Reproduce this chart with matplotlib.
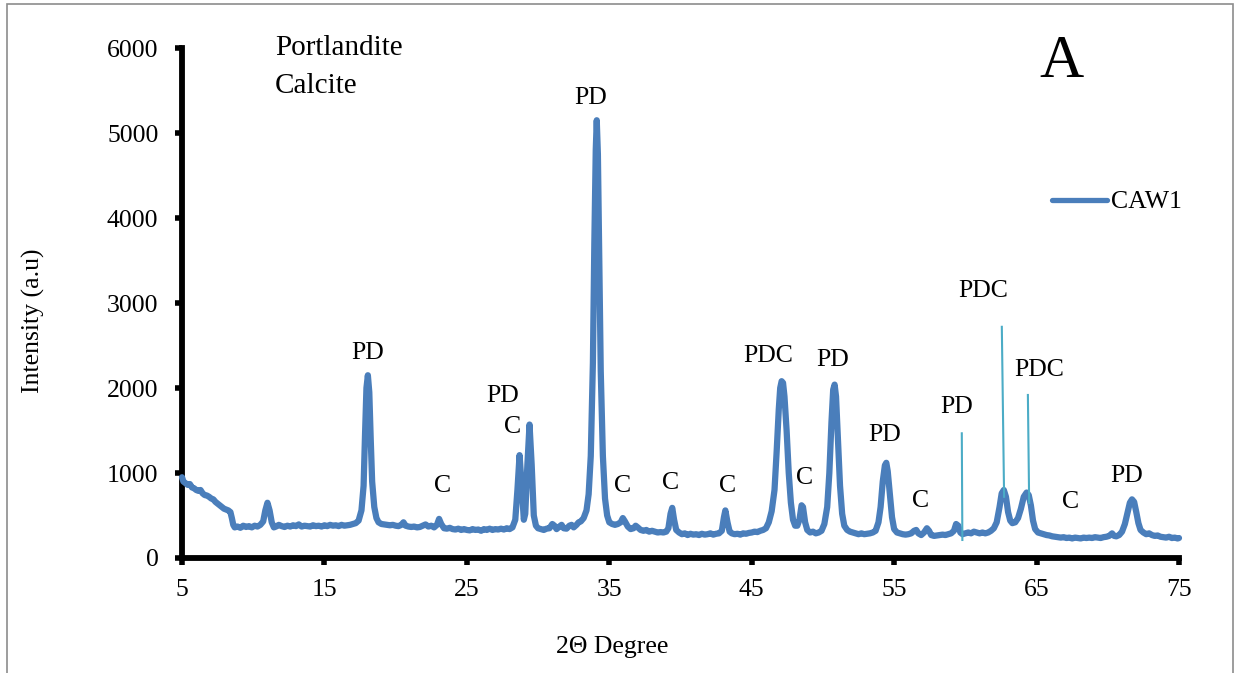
import matplotlib
matplotlib.use("Agg")
import matplotlib.pyplot as plt
from matplotlib.patches import Rectangle

# ---------------- data ----------------
two_theta = [
    5.0, 5.1, 5.25, 5.4, 5.55, 5.7, 5.85, 6.0, 6.15, 6.3, 6.45, 6.6, 6.75, 6.9, 7.05, 7.2, 7.35, 7.5, 7.65, 7.8,
    7.95, 8.1, 8.25, 8.4, 8.5, 8.6, 8.7,
    8.9, 9.1, 9.3, 9.5, 9.7, 9.9, 10.1, 10.3, 10.5,
    10.7, 10.85, 11.0, 11.15, 11.3, 11.45,
    11.6, 11.8, 12.0, 12.2, 12.4, 12.6, 12.8, 13.0, 13.2, 13.4, 13.6, 13.8, 14.0, 14.2, 14.4, 14.6, 14.8, 15.0,
    15.2, 15.4, 15.6, 15.8, 16.0, 16.2, 16.4, 16.6, 16.8, 17.0, 17.2, 17.4,
    17.6, 17.75, 17.85, 17.95, 18.05, 18.15, 18.25, 18.35, 18.5, 18.65, 18.8,
    19.0, 19.2, 19.4, 19.6, 19.8, 20.0, 20.2, 20.4, 20.55, 20.7, 20.9, 21.1, 21.3, 21.5, 21.7, 21.9, 22.1, 22.3,
    22.5, 22.7, 22.9, 23.05, 23.2, 23.4, 23.6, 23.8, 24.0, 24.2, 24.4, 24.6, 24.8, 25.0, 25.2, 25.4, 25.6, 25.8,
    26.0, 26.2, 26.4, 26.6, 26.8, 27.0, 27.2, 27.4, 27.6, 27.8, 28.0, 28.2, 28.4,
    28.55, 28.7, 28.85, 29.0, 29.1, 29.25, 29.4, 29.55, 29.7, 29.85, 30.0, 30.2, 30.4, 30.6, 30.8, 31.0, 31.15,
    31.3, 31.5, 31.65, 31.8, 32.0, 32.2, 32.35, 32.5, 32.7, 32.85, 33.0, 33.2, 33.4, 33.55, 33.7, 33.85, 33.95,
    34.05, 34.12, 34.2, 34.3, 34.4, 34.55, 34.7, 34.85, 35.0, 35.2, 35.4, 35.6, 35.8, 35.95, 36.1, 36.3, 36.5,
    36.7, 36.85, 37.0, 37.2, 37.4, 37.6, 37.8, 38.0, 38.2, 38.4, 38.6, 38.8, 39.0, 39.15, 39.3, 39.42, 39.55,
    39.7, 39.9, 40.1, 40.3, 40.5, 40.7, 40.9, 41.1, 41.3, 41.5, 41.7, 41.9, 42.1, 42.3, 42.5, 42.7, 42.9, 43.05,
    43.15, 43.3, 43.45, 43.6, 43.8, 44.0, 44.2, 44.4, 44.6, 44.8, 45.0, 45.2, 45.4, 45.6, 45.8, 46.0, 46.2, 46.4,
    46.6, 46.75, 46.9, 47.0, 47.1, 47.2, 47.3, 47.45, 47.6, 47.75, 47.9, 48.05, 48.2, 48.35, 48.5, 48.6, 48.75,
    48.9, 49.1, 49.3, 49.5, 49.7, 49.9, 50.1, 50.3, 50.45, 50.6, 50.72, 50.82, 50.92, 51.05, 51.2, 51.35, 51.5,
    51.7, 51.9, 52.1, 52.3, 52.5, 52.7, 52.9, 53.1, 53.3, 53.5, 53.7, 53.9, 54.05, 54.2, 54.35, 54.45, 54.55,
    54.7, 54.85, 55.0, 55.2, 55.4, 55.6, 55.8, 56.0, 56.2, 56.4, 56.55, 56.7, 56.9, 57.1, 57.3, 57.45, 57.6,
    57.8, 58.0, 58.2, 58.4, 58.6, 58.8, 59.0, 59.2, 59.35, 59.5, 59.65, 59.8, 60.0, 60.2, 60.4, 60.6, 60.8, 61.0,
    61.2, 61.4, 61.6, 61.8, 62.0, 62.2, 62.4, 62.55, 62.7, 62.85, 63.0, 63.15, 63.3, 63.5, 63.7, 63.9, 64.1,
    64.3, 64.45, 64.6, 64.75, 64.9, 65.1, 65.3, 65.5, 65.7, 65.9, 66.1, 66.3, 66.5, 66.7, 66.9, 67.1, 67.3,
    67.5, 67.7, 67.9, 68.1, 68.3, 68.5, 68.7, 68.9, 69.1, 69.3, 69.5, 69.7, 69.9, 70.1, 70.3, 70.45, 70.6, 70.8,
    71.0, 71.2, 71.4, 71.55, 71.7, 71.85, 72.0, 72.15, 72.3, 72.5, 72.7, 72.9, 73.1, 73.3, 73.5, 73.7, 73.9,
    74.1, 74.3, 74.5, 74.7, 74.9, 75.0,
]
intensity = [
    950, 900, 880, 860, 870, 830, 820, 800, 790, 800, 760, 740, 735, 720, 700, 690, 660, 640, 620, 600,
    580, 570, 560, 540, 470, 390, 360,
    370, 355, 380, 365, 375, 360, 380, 370, 390,
    430, 560, 650, 560, 420, 360,
    370, 390, 375, 365, 380, 370, 385, 375, 395, 370, 380, 375, 370, 385, 375, 380, 370, 385,
    375, 390, 380, 385, 375, 390, 380, 385, 390, 400, 410, 440,
    560, 850, 1450, 2000, 2150, 1950, 1400, 900, 600, 470, 420,
    400, 395, 390, 385, 390, 380, 375, 390, 420, 380, 370, 365, 370, 360, 365, 380, 395, 370,
    380, 360, 390, 460, 400, 350, 345, 355, 340, 335, 345, 330, 340, 330, 325, 340, 330, 335,
    320, 340, 330, 345, 330, 340, 335, 345, 335, 350, 340, 360, 450,
    800, 1210, 850, 450, 520, 1100, 1570, 1100, 500, 380, 350, 340, 330, 345, 350, 400, 380,
    340, 370, 390, 350, 345, 380, 390, 360, 390, 420, 430, 470, 560, 750, 1200, 2300, 3700,
    4800, 5150, 4750, 3500, 2200, 1200, 700, 500, 420, 400, 390, 400, 420, 470, 430, 370, 340,
    350, 380, 360, 330, 320, 330, 310, 320, 310, 300, 305, 300, 310, 350, 520, 590, 450,
    330, 300, 280, 290, 270, 285, 275, 280, 270, 285, 275, 280, 290, 275, 285, 290, 320, 480,
    560, 420, 310, 290, 280, 285, 275, 290, 285, 295, 300, 310, 305, 320, 330, 350, 420, 550,
    800, 1250, 1750, 2000, 2080, 2060, 1900, 1500, 1000, 650, 450, 380, 380, 450, 620, 600, 420,
    330, 300, 310, 290, 300, 320, 400, 600, 1000, 1600, 1980, 2040, 1900, 1400, 850, 520, 380,
    330, 310, 300, 290, 280, 290, 280, 285, 290, 300, 320, 420, 600, 900, 1090, 1120, 1020,
    750, 480, 340, 300, 290, 280, 275, 280, 290, 320, 330, 290, 270, 300, 350, 320, 270,
    260, 265, 270, 275, 270, 280, 290, 320, 400, 380, 300, 280, 290, 300, 290, 310, 300, 290,
    300, 290, 300, 320, 350, 420, 600, 760, 800, 720, 540, 440, 410, 420, 470, 580, 720,
    770, 740, 620, 440, 340, 300, 290, 280, 270, 265, 255, 250, 245, 240, 245, 235, 240,
    230, 240, 235, 230, 240, 235, 240, 235, 245, 240, 235, 245, 250, 260, 290, 260, 255, 270,
    310, 400, 540, 650, 690, 660, 540, 410, 330, 300, 280, 290, 270, 260, 265, 250, 245,
    240, 250, 235, 240, 230, 235,
]

# reference stick lines (cyan)
stick_x_top = [59.75, 62.56, 64.39]
stick_x_bottom = [59.79, 62.72, 64.48]
stick_y_top = [1467, 2720, 1918]
stick_y_bottom = [212, 720, 647]

# peak annotations
label_text = ["PD", "C", "PD", "C", "PD", "C", "C", "C", "PDC", "C", "PD", "PD", "C", "PD",
              "PDC", "PDC", "C", "PD"]
label_x = [18.06, 23.3, 27.5, 28.2, 33.7, 35.9, 39.27, 43.27, 46.15, 48.68, 50.65, 54.3, 56.83, 59.42,
           61.25, 65.2, 67.36, 71.36]
label_y = [2341, 776, 1835, 1470, 5341, 776, 810, 776, 2306, 870, 2259, 1376, 600, 1706,
           3070, 2141, 588, 894]

x_ticks = [5, 15, 25, 35, 45, 55, 65, 75]
y_ticks = [0, 1000, 2000, 3000, 4000, 5000, 6000]

# ---------------- figure ----------------
W, H = 1236, 673
plt.rcParams['font.family'] = ['Liberation Serif', 'DejaVu Serif']
fig = plt.figure(figsize=(W / 100, H / 100), dpi=100)

def fx(px):
    return px / W

def fy(py):
    return 1 - py / H

ax = fig.add_axes([fx(182), fy(558), fx(1179) - fx(182), fy(48) - fy(558)])

line_color = '#4a7ebb'
ax.plot(two_theta, intensity, color=line_color, lw=4.5, solid_joinstyle='round',
        solid_capstyle='round', clip_on=False, label='CAW1', zorder=3)

for xt, xb, yt, yb in zip(stick_x_top, stick_x_bottom, stick_y_top, stick_y_bottom):
    ax.plot([xt, xb], [yt, yb], color='#4bacc6', lw=1.5, zorder=4)

for t, x, y in zip(label_text, label_x, label_y):
    ax.text(x, y, t, ha='center', va='baseline', fontsize=18.5, color='black')

ax.set_xlim(5, 75)
ax.set_ylim(0, 6000)
ax.set_xticks(x_ticks)
ax.set_yticks(y_ticks)
ax.tick_params(axis='both', labelsize=18.5, width=4, length=5, direction='out', color='black')
ax.tick_params(axis='x', pad=10)
ax.tick_params(axis='y', pad=12)
for s in ['top', 'right']:
    ax.spines[s].set_visible(False)
for s in ['left', 'bottom']:
    ax.spines[s].set_linewidth(4.2)
    ax.spines[s].set_color('black')

leg = ax.legend(loc='center left', bbox_to_anchor=(fx(1052), fy(202)),
                bbox_transform=fig.transFigure, frameon=False, fontsize=18.5,
                handlelength=2.15, handletextpad=0.15, borderpad=0, borderaxespad=0)
for h in leg.get_lines():
    h.set_linewidth(3.8)

fig.text(fx(275), fy(55), 'Portlandite', fontsize=21, ha='left', va='baseline')
fig.text(fx(275), fy(93), 'Calcite', fontsize=21, ha='left', va='baseline')
fig.text(fx(1062), fy(77), 'A', fontsize=44, ha='center', va='baseline')

fig.text(fx(33), fy(321), 'Intensity (a.u)', fontsize=18.5, rotation=90, ha='center', va='center')
fig.text(fx(612), fy(647), '2\u0398 Degree', fontsize=18.5, ha='center', va='center')

fig.patches.append(Rectangle((fx(7), -0.2), fx(1233) - fx(7), fy(4) + 0.2,
                             transform=fig.transFigure, fill=False,
                             edgecolor='#8c8c8c', lw=1.2, zorder=-1))

fig.savefig('out.png', dpi=100)
